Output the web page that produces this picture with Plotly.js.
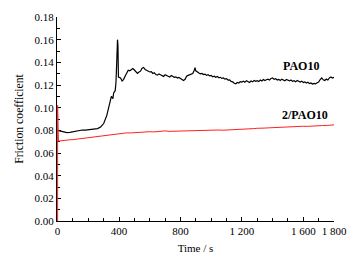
<!DOCTYPE html>
<html>
<head>
<meta charset="utf-8">
<script src="https://cdn.plot.ly/plotly-3.0.1.min.js"></script>
<style>html,body{margin:0;padding:0;background:#fff;}#chart{width:360px;height:260px;}</style>
</head>
<body>
<div id="chart"></div>
<script>
// PAO10 (black): run-in part
const timePAOStart = [0,20,40,60,80,100,120,140,160,180,200,220,240,260,280,300,320,340,350,360,365,375,380,385,390,393,396];
const fricPAOStart = [0.0800,0.0795,0.0785,0.0780,0.0782,0.0788,0.0795,0.0800,0.0803,0.0801,0.0805,0.0804,0.0808,0.0815,0.0830,0.0860,0.0930,0.1050,0.1100,0.1080,0.1130,0.1150,0.1220,0.1400,0.1600,0.1550,0.1270];
// PAO10 (black): steady part
const timePAOSteady = [400,410,420,430,440,450,460,470,480,490,500,510,520,530,540,550,560,570,580,590,600,610,620,630,640,650,660,670,680,690,700,710,720,730,740,750,760,770,780,790,800,810,820,830,840,850,860,870,880,890,895,900,910,920,930,940,950,960,970,980,990,1000,1010,1020,1030,1040,1050,1060,1070,1080,1090,1100,1110,1120,1130,1140,1150,1160,1170,1180,1190,1200,1210,1220,1230,1240,1250,1260,1270,1280,1290,1300,1310,1320,1330,1340,1350,1360,1370,1380,1390,1400,1410,1420,1430,1440,1450,1460,1470,1480,1490,1500,1510,1520,1530,1540,1550,1560,1570,1580,1590,1600,1610,1620,1630,1640,1650,1660,1670,1680,1690,1700,1710,1720,1730,1740,1750,1760,1770,1780,1790,1800];
const fricPAOSteady = [
0.1268,0.1262,0.1235,0.1250,0.1280,0.1305,0.1330,0.1325,0.1338,0.1345,
0.1332,0.1318,0.1302,0.1315,0.1322,0.1348,0.1355,0.1336,0.1330,0.1322,
0.1315,0.1318,0.1302,0.1308,0.1292,0.1287,0.1298,0.1290,0.1280,0.1276,
0.1290,0.1282,0.1275,0.1270,0.1284,0.1278,0.1268,0.1272,0.1262,0.1266,
0.1255,0.1248,0.1240,0.1250,0.1278,0.1285,0.1290,0.1296,0.1302,0.1330,
0.1352,
0.1325,0.1312,0.1305,0.1298,0.1302,0.1292,0.1296,0.1285,0.1290,0.1280,
0.1284,0.1272,0.1278,0.1268,0.1276,0.1264,0.1268,0.1258,0.1262,0.1252,
0.1256,0.1244,0.1246,0.1232,0.1228,0.1215,0.1210,0.1222,0.1218,0.1230,
0.1226,0.1234,0.1225,0.1238,0.1230,0.1222,0.1236,0.1228,0.1240,0.1232,
0.1238,0.1230,0.1244,0.1236,0.1248,0.1240,0.1246,0.1252,0.1244,0.1258,
0.1262,0.1250,0.1256,0.1244,0.1250,0.1240,0.1252,0.1244,0.1238,0.1248,
0.1242,0.1236,0.1244,0.1232,0.1238,0.1228,0.1240,0.1232,0.1226,0.1234,
0.1222,0.1228,0.1218,0.1224,0.1212,0.1218,0.1208,0.1214,0.1210,0.1220,
0.1226,0.1248,0.1262,0.1246,0.1240,0.1252,0.1244,0.1262,0.1270,0.1262,
0.1268];
// 2/PAO10 (red)
const time2PAO = [0,0,5,25,50,75,100,125,150,175,200,225,250,275,300,325,350,375,400,425,450,475,500,525,550,575,600,625,650,675,700,725,750,775,800,825,850,875,900,925,950,975,1000,1025,1050,1075,1100,1125,1150,1175,1200,1225,1250,1275,1300,1325,1350,1375,1400,1425,1450,1475,1500,1525,1550,1575,1600,1625,1650,1675,1700,1725,1750,1775,1800];
const fric2PAO = [0,0.102,0.0705,0.0710,0.0712,0.0716,0.0718,0.0722,0.0725,0.0730,0.0738,0.0740,0.0745,0.0748,0.0752,0.0757,0.0760,0.0766,0.0772,0.0775,0.0778,0.0777,0.0780,0.0784,0.0785,0.0787,0.0788,0.0786,0.0790,0.0793,0.0795,0.0791,0.0792,0.0797,0.0798,0.0795,0.0796,0.0799,0.0800,0.0798,0.0802,0.0801,0.0800,0.0804,0.0803,0.0801,0.0802,0.0805,0.0806,0.0805,0.0808,0.0810,0.0812,0.0815,0.0818,0.0817,0.0820,0.0822,0.0824,0.0823,0.0826,0.0828,0.0830,0.0829,0.0832,0.0834,0.0836,0.0835,0.0838,0.0839,0.0840,0.0842,0.0843,0.0845,0.0848];

const xTickVals = [0,400,800,1200,1600,1800];
const xTickText = ["0","400","800","1 200","1 600","1 800"];
const seriesNames = ["PAO10","2/PAO10"];

const font = "Liberation Serif, Times New Roman, serif";

const traces = [
  {x: timePAOStart.concat(timePAOSteady), y: fricPAOStart.concat(fricPAOSteady), mode: 'lines', name: seriesNames[0], line: {color: '#000', width: 1.2}},
  {x: time2PAO, y: fric2PAO, mode: 'lines', name: seriesNames[1], line: {color: '#ff2020', width: 1}}
];

const layout = {
  width: 360, height: 260,
  margin: {l: 57, r: 26, t: 17, b: 39},
  paper_bgcolor: '#fff', plot_bgcolor: '#fff',
  showlegend: false,
  font: {family: font, size: 11, color: '#000'},
  xaxis: {
    range: [-4, 1800], showgrid: false, zeroline: false, layer: 'below traces',
    showline: true, linecolor: '#000', linewidth: 1,
    ticks: 'inside', ticklen: 4, tickcolor: '#000', tickwidth: 1,
    tickmode: 'array', tickvals: xTickVals, ticktext: xTickText,
    minor: {tickmode: 'linear', tick0: 0, dtick: 100, ticks: 'inside', ticklen: 3, tickcolor: '#000', showgrid: false},
    tickfont: {family: font, size: 11, color: '#000'},
    title: {text: 'Time / s', font: {family: font, size: 11, color: '#000'}, standoff: 8}
  },
  yaxis: {
    range: [0, 0.18], showgrid: false, zeroline: false, layer: 'below traces',
    showline: true, linecolor: '#000', linewidth: 1,
    ticks: 'inside', ticklen: 4, tickcolor: '#000', tickwidth: 1,
    dtick: 0.02, tick0: 0, tickformat: '.2f',
    minor: {dtick: 0.01, ticks: 'inside', ticklen: 3, tickcolor: '#000', showgrid: false},
    tickfont: {family: font, size: 11, color: '#000'},
    title: {text: 'Friction coefficient', font: {family: font, size: 11.7, color: '#000'}, standoff: 8}
  },
  annotations: [
    {x: 1715, y: 0.1368, xref: 'x', yref: 'y', text: '<b>' + seriesNames[0] + '</b>', showarrow: false, xanchor: 'right', yanchor: 'middle', font: {family: font, size: 12, color: '#000'}},
    {x: 1774, y: 0.0931, xref: 'x', yref: 'y', text: '<b>' + seriesNames[1] + '</b>', showarrow: false, xanchor: 'right', yanchor: 'middle', font: {family: font, size: 12, color: '#000'}}
  ]
};

Plotly.newPlot('chart', traces, layout, {staticPlot: true, displayModeBar: false});
</script>
</body>
</html>
